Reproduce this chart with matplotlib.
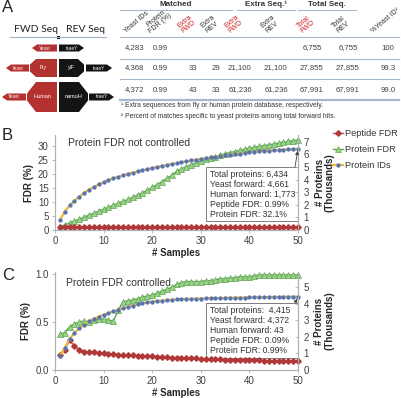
import matplotlib
matplotlib.use("Agg")
import matplotlib.pyplot as plt
from matplotlib.patches import Polygon, Rectangle
from matplotlib.lines import Line2D

plt.rcParams['font.family'] = ['Liberation Sans', 'DejaVu Sans']

# ---- data ----
samples = list(range(1, 51))

# panel B: protein FDR not controlled
pep_fdr_b = [1.02, 1.00, 0.99, 1.00, 0.99, 0.99, 0.99, 0.98, 0.99, 0.99,
             0.99, 0.99, 0.99, 0.98, 0.99, 0.99, 0.99, 0.99, 0.99, 0.99,
             0.99, 0.99, 0.99, 0.99, 0.99, 0.99, 0.99, 0.99, 0.99, 0.99,
             0.99, 0.99, 0.99, 0.99, 0.99, 0.99, 0.99, 0.99, 0.99, 0.99,
             0.99, 0.99, 0.99, 0.99, 0.99, 0.99, 0.99, 0.99, 0.99, 0.99]
prot_fdr_b = [1.2, 1.8, 2.5, 3.2, 3.9, 4.6, 5.3, 6.0, 6.7, 7.4,
              8.1, 8.8, 9.5, 10.2, 10.9, 11.7, 12.5, 13.3, 14.2, 15.2,
              16.2, 17.3, 18.4, 19.5, 20.9, 21.8, 22.6, 23.3, 24.0, 24.6,
              25.2, 25.7, 26.2, 26.7, 27.2, 27.6, 28.0, 28.4, 28.8, 29.2,
              29.5, 29.8, 30.1, 30.4, 30.7, 31.0, 31.3, 31.6, 31.9, 32.1]
prot_ids_b = [0.79, 1.45, 1.95, 2.33, 2.64, 2.95, 3.20, 3.42, 3.62, 3.80,
              3.96, 4.10, 4.22, 4.34, 4.45, 4.55, 4.65, 4.74, 4.83, 4.92,
              5.00, 5.08, 5.16, 5.24, 5.31, 5.38, 5.45, 5.52, 5.58, 5.64,
              5.70, 5.76, 5.82, 5.87, 5.92, 5.97, 6.02, 6.07, 6.12, 6.16,
              6.20, 6.24, 6.27, 6.30, 6.33, 6.36, 6.38, 6.40, 6.42, 6.434]

# panel C: protein FDR controlled
pep_fdr_c = [0.16, 0.21, 0.31, 0.25, 0.21, 0.19, 0.19, 0.185, 0.18, 0.175,
             0.17, 0.165, 0.16, 0.16, 0.155, 0.155, 0.15, 0.15, 0.145, 0.145,
             0.14, 0.14, 0.135, 0.13, 0.13, 0.125, 0.125, 0.12, 0.12, 0.115,
             0.115, 0.11, 0.11, 0.11, 0.105, 0.105, 0.105, 0.10, 0.10, 0.10,
             0.10, 0.10, 0.095, 0.095, 0.095, 0.095, 0.09, 0.09, 0.09, 0.09]
prot_fdr_c = [0.37, 0.39, 0.45, 0.48, 0.50, 0.51, 0.50, 0.52, 0.53, 0.53,
              0.52, 0.51, 0.62, 0.71, 0.72, 0.73, 0.74, 0.76, 0.77, 0.78,
              0.80, 0.82, 0.84, 0.86, 0.89, 0.91, 0.92, 0.92, 0.92, 0.92,
              0.93, 0.93, 0.94, 0.95, 0.95, 0.96, 0.96, 0.97, 0.97, 0.97,
              0.98, 0.99, 0.99, 0.99, 0.99, 0.99, 0.99, 0.99, 0.99, 0.99]
prot_ids_c = [0.82, 1.33, 1.87, 2.23, 2.53, 2.73, 2.95, 3.09, 3.21, 3.33,
              3.43, 3.53, 3.63, 3.72, 3.80, 3.88, 3.95, 4.01, 4.07, 4.12,
              4.15, 4.18, 4.21, 4.23, 4.25, 4.26, 4.27, 4.28, 4.29, 4.30,
              4.31, 4.32, 4.33, 4.33, 4.34, 4.35, 4.35, 4.36, 4.36, 4.37,
              4.37, 4.38, 4.38, 4.39, 4.39, 4.40, 4.40, 4.41, 4.41, 4.415]

box_b = "Total proteins: 6,434\nYeast forward: 4,661\nHuman forward: 1,773\nPeptide FDR: 0.99%\nProtein FDR: 32.1%"
box_c = "Total proteins:  4,415\nYeast forward: 4,372\nHuman forward: 43\nPeptide FDR: 0.09%\nProtein FDR: 0.99%"

# table in panel A
group_headers = ["Matched", "Extra Seq.\u00b9", "Total Seq."]
col_headers = ["Yeast IDs", "Protein\nFDR (%)", "Extra\nFWD", "Extra\nREV", "Extra\nFWD",
               "Extra\nREV", "Total\nFWD", "Total\nREV", "%Yeast ID\u00b2"]
col_red = [False, False, True, False, True, False, True, False, False]
table_rows = [
    ["4,283", "0.99", "", "", "", "", "6,755", "6,755", "100"],
    ["4,368", "0.99", "33", "29", "21,100", "21,100", "27,855", "27,855", "99.3"],
    ["4,372", "0.99", "43", "33", "61,236", "61,236", "67,991", "67,991", "99.0"],
]
footnotes = ["\u00b9 Extra sequences from fly or human protein database, respectively.",
             "\u00b2 Percent of matches specific to yeast proteins among total forward hits."]

RED_L, RED_M = '#c0504d', '#b03838'
GREEN_L, GREEN_M = '#5fa552', '#9ad487'
YEL, BLUE = '#f4b730', '#5574b4'
SPINE = '#b0b0b0'
TXT = '#333333'

fig = plt.figure(figsize=(4.01, 3.98), dpi=100)

# overlay in pixel coordinates for panel A and labels
ov = fig.add_axes([0, 0, 1, 1])
ov.set_xlim(0, 401)
ov.set_ylim(398, 0)
ov.axis('off')

for lab, y in [("A", 0), ("B", 128), ("C", 268)]:
    ov.text(2, y, lab, fontsize=12, va='top', ha='left', color='#222222')

# ---- diagram ----
DRED, DBLK = '#b3312e', '#141414'


def block(x0, x1, yc, h, hs, tip, left, color, label, fs):
    if left:
        pts = [(x0, yc - hs / 2), (x0 + tip, yc - h / 2), (x1, yc - h / 2),
               (x1, yc + h / 2), (x0 + tip, yc + h / 2), (x0, yc + hs / 2)]
    else:
        pts = [(x1, yc - hs / 2), (x1 - tip, yc - h / 2), (x0, yc - h / 2),
               (x0, yc + h / 2), (x1 - tip, yc + h / 2), (x1, yc + hs / 2)]
    ov.add_patch(Polygon(pts, closed=True, fc=color, ec='none'))
    ov.text((x0 + x1) / 2, yc, label, fontsize=fs, color='white', ha='center', va='center')


ov.text(36, 30, "FWD Seq", fontsize=7.5, ha='center', va='center', color='#222222', family='Lato')
ov.text(85, 30, "REV Seq", fontsize=7.5, ha='center', va='center', color='#222222', family='Lato')
ov.plot([10, 106], [37, 37], color='#9fb2c9', lw=0.8)
ov.add_patch(Rectangle((56.5, 35.5), 3, 3, fc='#111111', ec='none'))

block(32, 57, 48, 7, 0, 5, True, DRED, "Yeast", 3.3)
block(59, 84, 48, 7, 0, 5, False, DBLK, "tsaeY", 3.3)

block(6, 29, 68, 7, 0, 5, True, DRED, "Yeast", 3.3)
block(30, 57, 68, 18, 7, 6, True, DRED, "Fly", 3.8)
block(59, 84, 68, 18, 7, 6, False, DBLK, "ylF", 3.8)
block(86, 112, 68, 7, 0, 5, False, DBLK, "tsaeY", 3.3)

block(2, 26, 97, 7, 0, 5, True, DRED, "Yeast", 3.3)
block(27, 57, 97, 30, 7, 9, True, DRED, "Human", 4.0)
block(59, 88, 97, 30, 7, 9, False, DBLK, "namuH", 4.0)
block(89, 114, 97, 7, 0, 5, False, DBLK, "tsaeY", 3.3)

# ---- table ----
LINE = '#a7b8cc'
col_x = [135, 160, 193, 216, 240, 276, 312, 348, 388]
row_y = [48, 68, 90]

for name, (xa, xb) in zip(group_headers, [(120, 232), (237, 295), (298, 356)]):
    ov.text((xa + xb) / 2, 4, name, fontsize=5.8, weight='bold', ha='center', va='center', color=TXT)
    ov.plot([xa, xb], [9.5, 9.5], color=LINE, lw=0.8)

for i, (x, h, red) in enumerate(zip(col_x, col_headers, col_red)):
    x_anchor = x - 8 if i < len(col_x) - 1 else x - 14
    ov.text(x_anchor, 35, h, fontsize=5, rotation=40, rotation_mode='anchor', ha='left', va='bottom',
            multialignment='center', linespacing=0.95, color='#cc2222' if red else TXT)

for y in [37, 58.5, 79]:
    ov.plot([120, 399], [y, y], color=LINE, lw=0.8)
ov.plot([120, 399], [99.5, 99.5], color=LINE, lw=1.6)

for y, row in zip(row_y, table_rows):
    for x, v in zip(col_x, row):
        ov.text(x, y, v, fontsize=5.6, ha='center', va='center', color='#404040')

for y, t in zip([105.5, 116], footnotes):
    ov.text(121, y, t, fontsize=4.9, ha='left', va='center', color=TXT)


# ---- panels B and C ----
def draw_panel(rect, pep, prot, ids, fdr_top, fdr_ticks, fdr_fmt, ids_top, ids_ticks,
               title, title_xy, box_txt, box_rect):
    ax = fig.add_axes(rect)
    ax2 = ax.twinx()
    ax.plot(samples, pep, color=RED_L, lw=1, marker='D', ms=2.8, mfc=RED_M, mec=RED_M,
            clip_on=False, zorder=3)
    ax.plot(samples, prot, color=GREEN_L, lw=1, marker='^', ms=4.2, mfc=GREEN_M, mec=GREEN_L,
            mew=0.5, clip_on=False, zorder=2)
    ax2.plot(samples, ids, color=YEL, lw=1.6, marker='o', ms=2.1, mfc=BLUE, mec=BLUE,
             clip_on=False)
    ax.set_xlim(0, 50)
    ax.set_ylim(0, fdr_top)
    ax2.set_ylim(0, ids_top)
    ax.set_xticks([0, 10, 20, 30, 40, 50])
    ax.set_yticks(fdr_ticks)
    ax.set_yticklabels([fdr_fmt % t for t in fdr_ticks])
    ax2.set_yticks(ids_ticks)
    for a in (ax, ax2):
        a.patch.set_visible(False)
        a.spines['top'].set_visible(False)
        for s in ('left', 'right', 'bottom'):
            a.spines[s].set_color(SPINE)
            a.spines[s].set_linewidth(0.8)
    ax.tick_params(axis='both', labelsize=7, labelcolor='#404040', color=SPINE, length=2.5,
                   width=0.6, pad=2)
    ax2.tick_params(axis='y', labelsize=7, labelcolor='#404040', color=SPINE, length=2.5,
                    width=0.6, direction='in', pad=4)
    ax.set_xlabel("# Samples", fontsize=7, weight='bold', color='#262626', labelpad=1)
    ax.set_ylabel("FDR (%)", fontsize=7, weight='bold', color='#262626', labelpad=3)
    ax2.set_ylabel("# Proteins\n(Thousands)", fontsize=7, weight='bold', color='#262626',
                   labelpad=4, linespacing=1.0)
    ov.text(title_xy[0], title_xy[1], title, fontsize=7.5, color=TXT, ha='left', va='center')
    bx, by, bw, bh = box_rect
    ov.add_patch(Rectangle((bx, by), bw, bh, fc='white', ec='#7f7f7f', lw=0.7, zorder=5))
    ov.text(bx + 3.5, by + 3, box_txt, fontsize=6.2, ha='left', va='top', linespacing=1.13,
            color=TXT, zorder=6)
    ax2.annotate('', xy=(samples[-1], ids[-1]), xycoords='data',
                 xytext=(bx + bw - 3, 398 - by), textcoords='figure pixels',
                 annotation_clip=False,
                 arrowprops=dict(arrowstyle='-|>', color='#404040', lw=0.6,
                                 mutation_scale=5, shrinkA=0, shrinkB=1.5))
    return ax


draw_panel([55 / 401, 168 / 398, 243 / 401, 95 / 398], pep_fdr_b, prot_fdr_b, prot_ids_b,
           33.9, [0, 5, 10, 15, 20, 25, 30], '%d', 7.54, [0, 1, 2, 3, 4, 5, 6, 7],
           "Protein FDR not controlled", (68, 143), box_b, (206, 167, 92, 54))

draw_panel([55 / 401, 28 / 398, 243 / 401, 98 / 398], pep_fdr_c, prot_fdr_c, prot_ids_c,
           1.02, [0.0, 0.5, 1.0], '%.1f', 5.9, [0, 1, 2, 3, 4, 5],
           "Protein FDR controlled", (66, 283), box_c, (206, 303, 92, 55))

handles = [
    Line2D([], [], color=RED_L, lw=1, marker='D', ms=2.8, mfc=RED_M, mec=RED_M),
    Line2D([], [], color=GREEN_L, lw=1, marker='^', ms=4.2, mfc=GREEN_M, mec=GREEN_L, mew=0.5),
    Line2D([], [], color=YEL, lw=1.6, marker='o', ms=2.1, mfc=BLUE, mec=BLUE),
]
fig.legend(handles, ["Peptide FDR", "Protein FDR", "Protein IDs"], loc='upper left',
           bbox_to_anchor=(333 / 401, 1 - 129 / 398), frameon=False, fontsize=6.6,
           handlelength=1.1, handletextpad=0.25, labelspacing=0.75, borderaxespad=0,
           borderpad=0, labelcolor=TXT)

fig.savefig("out.png", dpi=100)
